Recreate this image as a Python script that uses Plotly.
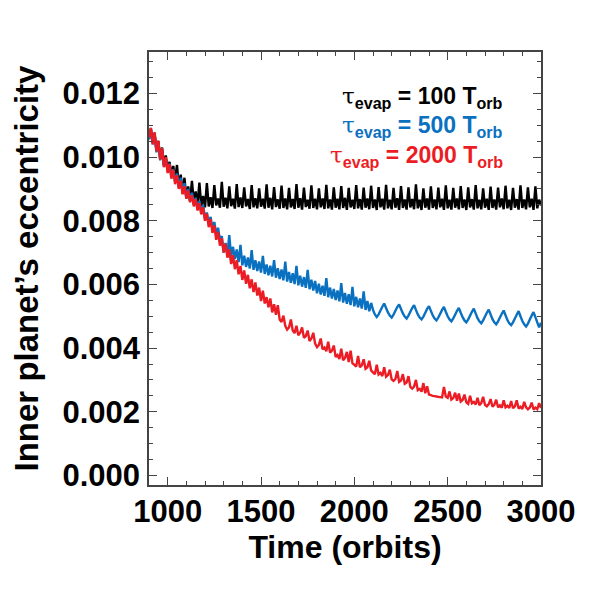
import plotly.graph_objects as go

# time axis in orbits, one sample every 10 orbits
time_orbits = list(range(900, 3001, 10))

# inner planet eccentricity, tau_evap = 100 T_orb
ecc_tau100 = [
    0.01060, 0.01090, 0.01045, 0.01075, 0.01020, 0.01050, 0.00995, 0.01030, 0.00975, 0.01005,
    0.00960, 0.00985, 0.00945, 0.00972, 0.00930, 0.00975, 0.00905, 0.00945, 0.00885, 0.00935,
    0.00870, 0.00908, 0.00862, 0.00925, 0.00858, 0.00892, 0.00850, 0.00920, 0.00846, 0.00878,
    0.00842, 0.00918, 0.00845, 0.00874, 0.00840, 0.00912, 0.00848, 0.00870, 0.00841, 0.00922,
    0.00844, 0.00872, 0.00839, 0.00908, 0.00846, 0.00869, 0.00838, 0.00915, 0.00843, 0.00873,
    0.00840, 0.00905, 0.00845, 0.00868, 0.00837, 0.00912, 0.00842, 0.00871, 0.00839, 0.00902,
    0.00844, 0.00869, 0.00838, 0.00914, 0.00841, 0.00872, 0.00836, 0.00906, 0.00843, 0.00867,
    0.00838, 0.00910, 0.00840, 0.00870, 0.00836, 0.00903, 0.00842, 0.00868, 0.00837, 0.00915,
    0.00841, 0.00871, 0.00835, 0.00904, 0.00843, 0.00866, 0.00838, 0.00911, 0.00840, 0.00869,
    0.00836, 0.00902, 0.00842, 0.00870, 0.00837, 0.00913, 0.00839, 0.00867, 0.00835, 0.00905,
    0.00841, 0.00869, 0.00836, 0.00909, 0.00840, 0.00872, 0.00834, 0.00903, 0.00842, 0.00866,
    0.00837, 0.00912, 0.00839, 0.00868, 0.00835, 0.00904, 0.00841, 0.00870, 0.00836, 0.00910,
    0.00840, 0.00867, 0.00834, 0.00906, 0.00842, 0.00869, 0.00835, 0.00913, 0.00839, 0.00866,
    0.00836, 0.00903, 0.00841, 0.00871, 0.00834, 0.00909, 0.00840, 0.00867, 0.00835, 0.00905,
    0.00842, 0.00868, 0.00836, 0.00914, 0.00839, 0.00866, 0.00834, 0.00902, 0.00841, 0.00870,
    0.00835, 0.00908, 0.00840, 0.00867, 0.00836, 0.00904, 0.00842, 0.00869, 0.00834, 0.00911,
    0.00839, 0.00866, 0.00835, 0.00903, 0.00841, 0.00870, 0.00836, 0.00909, 0.00840, 0.00867,
    0.00834, 0.00905, 0.00842, 0.00868, 0.00835, 0.00912, 0.00839, 0.00866, 0.00836, 0.00902,
    0.00841, 0.00869, 0.00834, 0.00907, 0.00840, 0.00867, 0.00835, 0.00904, 0.00842, 0.00870,
    0.00836, 0.00910, 0.00839, 0.00866, 0.00834, 0.00903, 0.00841, 0.00868, 0.00835, 0.00911,
    0.00840, 0.00867, 0.00836, 0.00905, 0.00842, 0.00869, 0.00834, 0.00908, 0.00839, 0.00866,
    0.00848,
]

# tau_evap = 500 T_orb
ecc_tau500 = [
    0.01055, 0.01085, 0.01040, 0.01070, 0.01015, 0.01045, 0.00990, 0.01020, 0.00970, 0.00995,
    0.00955, 0.00980, 0.00938, 0.00962, 0.00922, 0.00948, 0.00905, 0.00935, 0.00890, 0.00918,
    0.00875, 0.00900, 0.00862, 0.00888, 0.00850, 0.00872, 0.00838, 0.00862, 0.00825, 0.00850,
    0.00805, 0.00826, 0.00790, 0.00812, 0.00775, 0.00796, 0.00758, 0.00778, 0.00738, 0.00752,
    0.00700, 0.00730, 0.00695, 0.00755, 0.00688, 0.00718, 0.00680, 0.00710, 0.00670, 0.00724,
    0.00660, 0.00690, 0.00655, 0.00685, 0.00650, 0.00708, 0.00646, 0.00676, 0.00642, 0.00672,
    0.00637, 0.00690, 0.00633, 0.00663, 0.00629, 0.00659, 0.00625, 0.00676, 0.00621, 0.00651,
    0.00617, 0.00647, 0.00613, 0.00672, 0.00609, 0.00639, 0.00605, 0.00635, 0.00601, 0.00658,
    0.00597, 0.00627, 0.00593, 0.00623, 0.00589, 0.00646, 0.00585, 0.00615, 0.00581, 0.00611,
    0.00572, 0.00602, 0.00568, 0.00596, 0.00564, 0.00620, 0.00560, 0.00590, 0.00556, 0.00586,
    0.00551, 0.00581, 0.00547, 0.00604, 0.00543, 0.00573, 0.00539, 0.00569, 0.00535, 0.00592,
    0.00531, 0.00561, 0.00528, 0.00556, 0.00524, 0.00578, 0.00520, 0.00548, 0.00516, 0.00542,
    0.00520, 0.00506, 0.00498, 0.00506, 0.00518, 0.00530, 0.00540, 0.00526, 0.00512, 0.00502,
    0.00496, 0.00505, 0.00517, 0.00529, 0.00537, 0.00523, 0.00509, 0.00499, 0.00493, 0.00502,
    0.00514, 0.00526, 0.00535, 0.00520, 0.00506, 0.00496, 0.00490, 0.00499, 0.00511, 0.00523,
    0.00532, 0.00517, 0.00503, 0.00493, 0.00487, 0.00496, 0.00508, 0.00520, 0.00529, 0.00514,
    0.00500, 0.00490, 0.00484, 0.00493, 0.00505, 0.00517, 0.00526, 0.00511, 0.00497, 0.00487,
    0.00481, 0.00490, 0.00502, 0.00514, 0.00524, 0.00509, 0.00494, 0.00484, 0.00478, 0.00487,
    0.00499, 0.00511, 0.00521, 0.00506, 0.00491, 0.00481, 0.00475, 0.00484, 0.00496, 0.00508,
    0.00518, 0.00503, 0.00488, 0.00478, 0.00472, 0.00481, 0.00493, 0.00505, 0.00516, 0.00500,
    0.00485, 0.00475, 0.00468, 0.00477, 0.00490, 0.00502, 0.00513, 0.00497, 0.00481, 0.00465,
    0.00480,
]

# tau_evap = 2000 T_orb
ecc_tau2000 = [
    0.01062, 0.01092, 0.01040, 0.01078, 0.01018, 0.01052, 0.00992, 0.01028, 0.00968, 0.01000,
    0.00950, 0.00978, 0.00932, 0.00960, 0.00915, 0.00942, 0.00900, 0.00925, 0.00883, 0.00908,
    0.00870, 0.00895, 0.00858, 0.00880, 0.00845, 0.00868, 0.00832, 0.00855, 0.00820, 0.00842,
    0.00800, 0.00822, 0.00780, 0.00805, 0.00762, 0.00785, 0.00740, 0.00765, 0.00722, 0.00745,
    0.00700, 0.00728, 0.00684, 0.00710, 0.00664, 0.00692, 0.00648, 0.00676, 0.00632, 0.00658,
    0.00614, 0.00644, 0.00602, 0.00630, 0.00588, 0.00616, 0.00576, 0.00606, 0.00565, 0.00590,
    0.00548, 0.00580, 0.00540, 0.00560, 0.00528, 0.00556, 0.00512, 0.00538, 0.00505, 0.00535,
    0.00490, 0.00482, 0.00502, 0.00470, 0.00458, 0.00465, 0.00490, 0.00455, 0.00447, 0.00470,
    0.00440, 0.00448, 0.00465, 0.00432, 0.00438, 0.00455, 0.00422, 0.00430, 0.00448, 0.00414,
    0.00403, 0.00410, 0.00430, 0.00396, 0.00402, 0.00390, 0.00420, 0.00386, 0.00392, 0.00408,
    0.00372, 0.00378, 0.00366, 0.00398, 0.00362, 0.00369, 0.00388, 0.00356, 0.00392, 0.00352,
    0.00348, 0.00342, 0.00375, 0.00340, 0.00346, 0.00365, 0.00335, 0.00340, 0.00360, 0.00330,
    0.00324, 0.00318, 0.00348, 0.00317, 0.00322, 0.00312, 0.00340, 0.00310, 0.00315, 0.00332,
    0.00302, 0.00297, 0.00303, 0.00328, 0.00294, 0.00298, 0.00318, 0.00288, 0.00292, 0.00312,
    0.00278, 0.00273, 0.00279, 0.00300, 0.00268, 0.00272, 0.00263, 0.00290, 0.00258, 0.00280,
    0.00254, 0.00252, 0.00250, 0.00249, 0.00248, 0.00247, 0.00246, 0.00245, 0.00278, 0.00248,
    0.00244, 0.00264, 0.00238, 0.00243, 0.00260, 0.00235, 0.00257, 0.00232, 0.00237, 0.00254,
    0.00230, 0.00225, 0.00250, 0.00227, 0.00231, 0.00223, 0.00244, 0.00221, 0.00227, 0.00247,
    0.00222, 0.00217, 0.00224, 0.00240, 0.00216, 0.00222, 0.00238, 0.00214, 0.00220, 0.00213,
    0.00236, 0.00214, 0.00219, 0.00212, 0.00234, 0.00211, 0.00217, 0.00236, 0.00210, 0.00216,
    0.00209, 0.00231, 0.00214, 0.00208, 0.00213, 0.00229, 0.00207, 0.00213, 0.00208, 0.00227,
    0.00212,
]

tau_values = ["100", "500", "2000"]
series = [ecc_tau100, ecc_tau500, ecc_tau2000]
colors = ["#000000", "#0a70c0", "#ec1c24"]

FONT = "Liberation Sans"
AXIS_COL = "#444444"

fig = go.Figure()
for ecc, col in zip(series, colors):
    fig.add_trace(go.Scatter(x=time_orbits, y=ecc, mode="lines",
                             line=dict(color=col, width=2.4, simplify=False),
                             showlegend=False))

# the three coloured labels in the upper right
label_y = [0.896, 0.827, 0.758]
for tau, col, yy in zip(tau_values, colors, label_y):
    txt = ('<span style="font-family:DejaVu Serif;font-weight:normal">τ</span>'
           '<sub>evap</sub> = ' + tau + ' T<sub>orb</sub>')
    fig.add_annotation(text=txt, xref="paper", yref="paper", x=0.908, y=yy,
                       xanchor="right", yanchor="middle", showarrow=False,
                       font=dict(family=FONT, size=23, color=col, weight="bold"))

axis_common = dict(
    showline=True, mirror="ticks", linecolor=AXIS_COL, linewidth=1.5,
    ticks="inside", ticklen=8, tickwidth=1.2, tickcolor=AXIS_COL,
    showgrid=False, zeroline=False,
    tickfont=dict(family=FONT, size=31, color="black", weight="bold"),
)

fig.update_xaxes(
    range=[900, 3000], tickvals=[1000, 1500, 2000, 2500, 3000],
    minor=dict(dtick=100, tick0=900, ticks="inside", ticklen=4, tickcolor=AXIS_COL, tickwidth=1),
    title=dict(text="Time (orbits)", standoff=0,
               font=dict(family=FONT, size=32, color="black", weight="bold")),
    ticklabelstandoff=-2,
    **axis_common,
)
fig.update_yaxes(
    range=[-0.0003, 0.0133], tickvals=[0, 0.002, 0.004, 0.006, 0.008, 0.010, 0.012],
    tickformat=".3f",
    minor=dict(dtick=0.0005, tick0=0, ticks="inside", ticklen=4, tickcolor=AXIS_COL, tickwidth=1),
    title=dict(text="Inner planet’s eccentricity", standoff=18,
               font=dict(family=FONT, size=33, color="black", weight="bold")),
    ticklabelstandoff=1,
    **axis_common,
)

# the page body adds an 8px offset, so the figure is 8px smaller
fig.update_layout(
    width=583, height=583,
    margin=dict(l=141, r=50, t=44, b=106),
    paper_bgcolor="white", plot_bgcolor="white",
)

fig.write_html("out.html")
